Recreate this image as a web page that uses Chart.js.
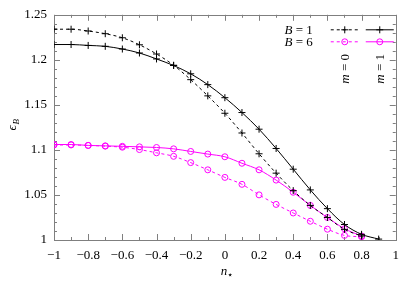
<!DOCTYPE html>
<html>
<head>
<meta charset="utf-8">
<script src="https://cdn.jsdelivr.net/npm/chart.js@4.4.1/dist/chart.umd.min.js"></script>
<style>
    html, body { margin: 0; padding: 0; background: #fff; }
    #wrap { width: 407px; height: 284px; }
</style>
</head>
<body>
<div id="wrap"><canvas id="epsChart" width="407" height="284"></canvas></div>
<script>
// n_* sampling points
const nStar = [-1, -0.9, -0.8, -0.7, -0.6, -0.5, -0.4, -0.3, -0.2, -0.1,
               0, 0.1, 0.2, 0.3, 0.4, 0.5, 0.6, 0.7, 0.8, 0.9];

// epsilon_B
const epsB1m0 = [1.234, 1.234, 1.232, 1.229, 1.2245, 1.2167, 1.2065, 1.194, 1.178, 1.160,
                 1.1407, 1.1188, 1.0957, 1.0742, 1.0548, 1.0384, 1.025, 1.0118, 1.0044];
const epsB1m1 = [1.217, 1.217, 1.216, 1.215, 1.212, 1.2076, 1.201, 1.1937, 1.1845, 1.1725,
                 1.158, 1.1415, 1.123, 1.1016, 1.0786, 1.0556, 1.0348, 1.0172, 1.0063, 1.001];
const epsB6m0 = [1.1055, 1.1055, 1.105, 1.1042, 1.103, 1.1004, 1.0968, 1.0929, 1.0859, 1.0779,
                 1.0695, 1.0618, 1.0501, 1.0395, 1.030, 1.0208, 1.012, 1.0051, 1.0036];
const epsB6m1 = [1.106, 1.106, 1.105, 1.1045, 1.104, 1.1034, 1.1027, 1.1012, 1.0983, 1.0954,
                 1.0924, 1.0852, 1.0779, 1.0665, 1.053, 1.0384, 1.025, 1.0125, 1.0044];

const xRange = [-1, 1];
const yRange = [1, 1.25];

const SERIF = '"Liberation Serif", "DejaVu Serif", serif';
const FRAME = '#7f7f7f';
const MAGENTA = '#ff00ff';

const pts = ys => ys.map((y, i) => ({ x: nStar[i], y }));
const fmtX = v => {
    const s = (Math.round(v * 10) / 10).toString();
    return s.replace('-', '\u2212');
};
const isMajorX = v => Math.round(v * 10) % 2 === 0;
const isMajorY = v => Math.round(v * 100) % 5 === 0;

// frame + inward ticks on all four sides
const framePlugin = {
    id: 'frame',
    beforeDatasetsDraw(chart) {
        const { ctx, chartArea: a, scales: { x, y } } = chart;
        ctx.save();
        ctx.strokeStyle = FRAME;
        ctx.lineWidth = 1;
        ctx.beginPath();
        x.ticks.forEach(t => {
            const px = Math.round(x.getPixelForValue(t.value)) + 0.5;
            const len = isMajorX(t.value) ? 6 : 3;
            ctx.moveTo(px, a.bottom); ctx.lineTo(px, a.bottom - len);
            ctx.moveTo(px, a.top); ctx.lineTo(px, a.top + len);
        });
        y.ticks.forEach(t => {
            const py = Math.round(y.getPixelForValue(t.value)) + 0.5;
            const len = isMajorY(t.value) ? 6 : 3;
            ctx.moveTo(a.left, py); ctx.lineTo(a.left + len, py);
            ctx.moveTo(a.right, py); ctx.lineTo(a.right - len, py);
        });
        ctx.stroke();
        ctx.strokeRect(Math.round(a.left) + 0.5, Math.round(a.top) + 0.5,
                       Math.round(a.right - a.left), Math.round(a.bottom - a.top));
        ctx.restore();
    }
};

// axis titles, key and m labels
const annotPlugin = {
    id: 'annot',
    afterDraw(chart) {
        const { ctx, chartArea: a } = chart;
        ctx.save();
        ctx.fillStyle = '#000';
        ctx.textBaseline = 'alphabetic';

        // x title n_*
        const cx = (a.left + a.right) / 2;
        ctx.font = 'italic 13px ' + SERIF;
        ctx.textAlign = 'center';
        ctx.fillText('n', cx - 1, a.bottom + 35);
        ctx.font = '10px ' + SERIF;
        ctx.fillText('\u22c6', cx + 5, a.bottom + 38);

        // y title eps_B
        ctx.save();
        ctx.translate(16, (a.top + a.bottom) / 2 - 3);
        ctx.rotate(-Math.PI / 2);
        ctx.textAlign = 'left';
        ctx.font = 'italic 13px ' + SERIF;
        ctx.fillText('\u03f5', -6, 0);
        ctx.font = 'italic 9px ' + SERIF;
        ctx.fillText('B', 0, 3);
        ctx.restore();

        // key
        const rows = [
            { label: '1', color: '#000', style: 'cross', r: 3.5 },
            { label: '6', color: MAGENTA, style: 'circle', r: 3 }
        ];
        const textRight = a.right - 83;
        const dashX = [a.right - 65, a.right - 37];
        const solidX = [a.right - 30, a.right - 2];
        rows.forEach((row, i) => {
            const yy = a.top + 15 + i * 12;
            ctx.font = '13px ' + SERIF;
            const rest = ' = ' + row.label;
            const wRest = ctx.measureText(rest).width;
            ctx.textAlign = 'left';
            ctx.fillStyle = '#000';
            ctx.fillText(rest, textRight - wRest, yy + 4);
            ctx.font = 'italic 13px ' + SERIF;
            const wB = ctx.measureText('B').width;
            ctx.fillText('B', textRight - wRest - wB, yy + 4);

            ctx.strokeStyle = row.color;
            ctx.lineWidth = 1;
            [[dashX, [3, 3]], [solidX, []]].forEach(([xs, dash]) => {
                ctx.setLineDash(dash);
                ctx.beginPath();
                ctx.moveTo(xs[0], yy); ctx.lineTo(xs[1], yy);
                ctx.stroke();
                ctx.setLineDash([]);
                const mx = (xs[0] + xs[1]) / 2;
                ctx.beginPath();
                if (row.style === 'cross') {
                    ctx.moveTo(mx - row.r, yy); ctx.lineTo(mx + row.r, yy);
                    ctx.moveTo(mx, yy - row.r); ctx.lineTo(mx, yy + row.r);
                } else {
                    ctx.arc(mx, yy, row.r, 0, Math.PI * 2);
                }
                ctx.stroke();
            });
        });

        // rotated m labels under the key columns
        [['0', dashX], ['1', solidX]].forEach(([m, xs]) => {
            ctx.save();
            ctx.translate((xs[0] + xs[1]) / 2 + 4, a.top + 54);
            ctx.rotate(-Math.PI / 2);
            ctx.fillStyle = '#000';
            ctx.font = 'italic 13px ' + SERIF;
            const wm = ctx.measureText('m').width;
            ctx.font = '13px ' + SERIF;
            const wr = ctx.measureText(' = ' + m).width;
            const x0 = -(wm + wr) / 2;
            ctx.textAlign = 'left';
            ctx.font = 'italic 13px ' + SERIF;
            ctx.fillText('m', x0, 0);
            ctx.font = '13px ' + SERIF;
            ctx.fillText(' = ' + m, x0 + wm, 0);
            ctx.restore();
        });
        ctx.restore();
    }
};

function makeSet(label, ys, color, dashed, style) {
    return {
        label,
        data: pts(ys),
        borderColor: color,
        backgroundColor: 'transparent',
        borderWidth: 1,
        borderDash: dashed ? [3, 3] : [],
        tension: 0.4,
        cubicInterpolationMode: 'monotone',
        pointStyle: style,
        pointRadius: style === 'cross' ? 3.5 : 3,
        pointBorderColor: color,
        pointBackgroundColor: 'transparent',
        pointBorderWidth: 1
    };
}

new Chart(document.getElementById('epsChart').getContext('2d'), {
    type: 'line',
    data: {
        datasets: [
            makeSet('B=1, m=0', epsB1m0, '#000', true, 'cross'),
            makeSet('B=1, m=1', epsB1m1, '#000', false, 'cross'),
            makeSet('B=6, m=0', epsB6m0, MAGENTA, true, 'circle'),
            makeSet('B=6, m=1', epsB6m1, MAGENTA, false, 'circle')
        ]
    },
    options: {
        responsive: false,
        animation: false,
        layout: { padding: { top: 12, right: 9, left: 0, bottom: 0 } },
        plugins: {
            legend: { display: false },
            tooltip: { enabled: false }
        },
        scales: {
            x: {
                type: 'linear',
                min: xRange[0],
                max: xRange[1],
                grid: { display: false, drawTicks: false },
                border: { display: false },
                ticks: {
                    stepSize: 0.1,
                    autoSkip: false,
                    maxRotation: 0,
                    padding: 8,
                    color: '#000',
                    font: { family: SERIF, size: 13 },
                    callback: v => isMajorX(v) ? fmtX(v) : ''
                },
                afterFit: s => { s.height = 44; }
            },
            y: {
                min: yRange[0],
                max: yRange[1],
                grid: { display: false, drawTicks: false },
                border: { display: false },
                ticks: {
                    stepSize: 0.01,
                    autoSkip: false,
                    padding: 7,
                    color: '#000',
                    font: { family: SERIF, size: 13 },
                    callback: v => isMajorY(v) ? String(Math.round(v * 100) / 100) : ''
                },
                afterFit: s => { s.width = 54; }
            }
        }
    },
    plugins: [framePlugin, annotPlugin]
});
</script>
</body>
</html>
